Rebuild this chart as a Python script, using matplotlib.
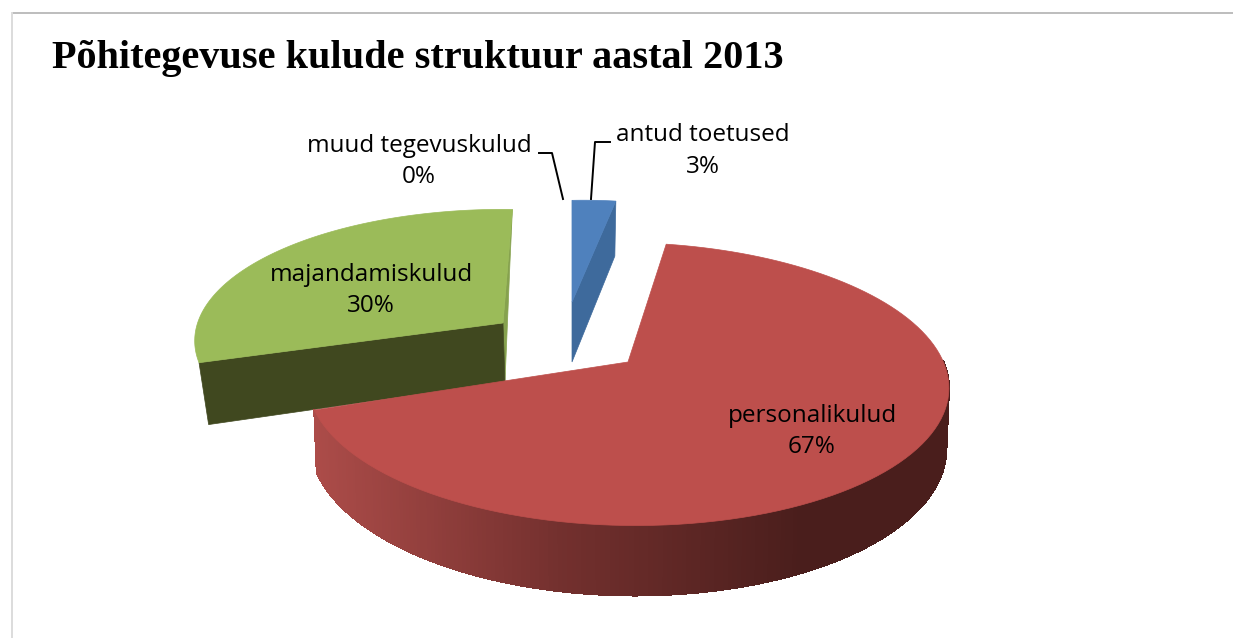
# -*- coding: utf-8 -*-
import numpy as np
import matplotlib
matplotlib.use("Agg")
import matplotlib.pyplot as plt
from matplotlib.collections import PolyCollection
from matplotlib.patches import Polygon

# Data
categories = ['antud toetused', 'personalikulud', 'majandamiskulud', 'muud tegevuskulud']
shares = [3, 67, 30, 0]
title = "Põhitegevuse kulude struktuur aastal 2013"

# Drawing setup of the fake 3D pie (pixels of the 1233x638 picture)
start_angle = -2.8
red_pie = dict(cx=628, cy=362, rx=317, ry=138, sx=0, sy=4, depth=59, k=0.156)
green_pie = dict(cx=503, cy=323, rx=302, ry=128, sx=-22.5, sy=8.5, depth=59, k=0.13)
blue_pie = dict(cx=572, cy=302, rx=264, ry=115, sx=-11.4, sy=0, depth=60, k=0.13)


def rim(t_deg, g, drop=False):
    t = np.radians(np.atleast_1d(t_deg))
    X = np.sin(t)
    Y = -np.cos(t)
    s = 1 / (1 - g['k'] * Y)
    x = g['cx'] + g['rx'] * X * s + g['sx'] * Y
    y = g['cy'] + g['ry'] * Y * s + g['sy'] * X
    if drop:
        x = g['cx'] + 2 + (x - g['cx']) * 0.975
        y = y + g['depth'] * s
    return np.column_stack([x, y])


def wedge(t1, t2, g):
    ts = np.linspace(t1, t2, 120)
    return np.vstack([[[g['cx'], g['cy']]], rim(ts, g)])


fig = plt.figure(figsize=(12.33, 6.38), dpi=100)
ax = fig.add_axes([0, 0, 1, 1])
ax.set_xlim(0, 1233)
ax.set_ylim(638, 0)
ax.axis('off')

# Chart frame
ax.plot([1233, 11.5], [13, 13], color='#bdbdbd', lw=1.4, solid_capstyle='butt')
ax.plot([11.5, 11.5], [13, 638], color='#dcdcdc', lw=1.4)

# Slice angles
edges = start_angle + np.cumsum([0] + shares) * 3.6
blue_a, blue_b = edges[0], edges[1]
red_a, red_b = edges[1], edges[2]
green_a, green_b = edges[2], edges[3]

# Green slice
apex = np.array([[green_pie['cx'], green_pie['cy']]])
apex_low = np.array([[green_pie['cx'] + 2, green_pie['cy'] + green_pie['depth']]])
ax.add_patch(Polygon(np.vstack([apex, rim(green_b, green_pie), [[510, 262]], apex_low]),
                     fc='#86a24e', ec='#86a24e', lw=0.5))
ax.add_patch(Polygon(np.vstack([rim(green_a, green_pie), rim(green_a, green_pie, True), apex_low, apex]),
                     fc='#40481f', ec='#40481f', lw=0.5))
ax.add_patch(Polygon(wedge(green_a, green_b, green_pie), fc='#9bbb59', ec='#9bbb59', lw=0.5))

# Blue slice
apex = np.array([[blue_pie['cx'], blue_pie['cy']]])
apex_low = apex + [0, blue_pie['depth']]
blue_end = rim(blue_b, blue_pie)
ax.add_patch(Polygon(np.vstack([apex, blue_end, blue_end + [-1, 55], apex_low]),
                     fc='#3e6a9c', ec='#3e6a9c', lw=0.5))
ax.add_patch(Polygon(wedge(blue_a, blue_b, blue_pie), fc='#4f81bd', ec='#4f81bd', lw=0.5))

# Red slice, the outer wall has a left to right shading
ts = np.linspace(88, red_b, 220)
top = rim(ts, red_pie)
low = rim(ts, red_pie)
low[:, 0] = red_pie['cx'] + (low[:, 0] - red_pie['cx']) * 0.992
low[:, 1] = low[:, 1] + red_pie['depth'] * (1 / (1 + red_pie['k'] * np.cos(np.radians(ts))))
quads = []
cols = []
for i in range(len(ts) - 1):
    quads.append([top[i], top[i + 1], low[i + 1], low[i]])
    xm = (top[i, 0] + top[i + 1, 0]) / 2
    r = np.interp(xm, [313, 560, 800, 948], [172, 115, 74, 74])
    g = np.interp(xm, [313, 560, 800, 948], [76, 48, 30, 30])
    b = np.interp(xm, [313, 560, 800, 948], [73, 46, 28, 28])
    cols.append((r / 255, g / 255, b / 255))
ax.add_collection(PolyCollection(quads, facecolors=cols, edgecolors=cols, linewidths=0.8, antialiaseds=False))
ax.add_patch(Polygon(wedge(red_a, red_b, red_pie), fc='#bd4f4c', ec='#bd4f4c', lw=0.5))

# Leader lines
ax.plot([539, 552, 563], [153, 153, 199], color='black', lw=1.4)
ax.plot([610, 595, 591], [142, 142, 199], color='black', lw=1.4)

# Labels
label_pos = [(703, 135, 167), (812, 416, 447), (371, 275, 306), (419, 146, 177)]
for name, share, (x, y1, y2) in zip(categories, shares, label_pos):
    ax.text(x, y1, name, ha='center', va='center', fontsize=17.5, family='Open Sans', color='black')
    ax.text(x, y2, f"{share}%", ha='center', va='center', fontsize=17.5, family='Open Sans', color='black')

# Title
ax.text(52, 68, title, ha='left', va='baseline', fontsize=29, fontweight='bold',
        family='Liberation Serif', color='black')

fig.savefig('out.png', dpi=100)
